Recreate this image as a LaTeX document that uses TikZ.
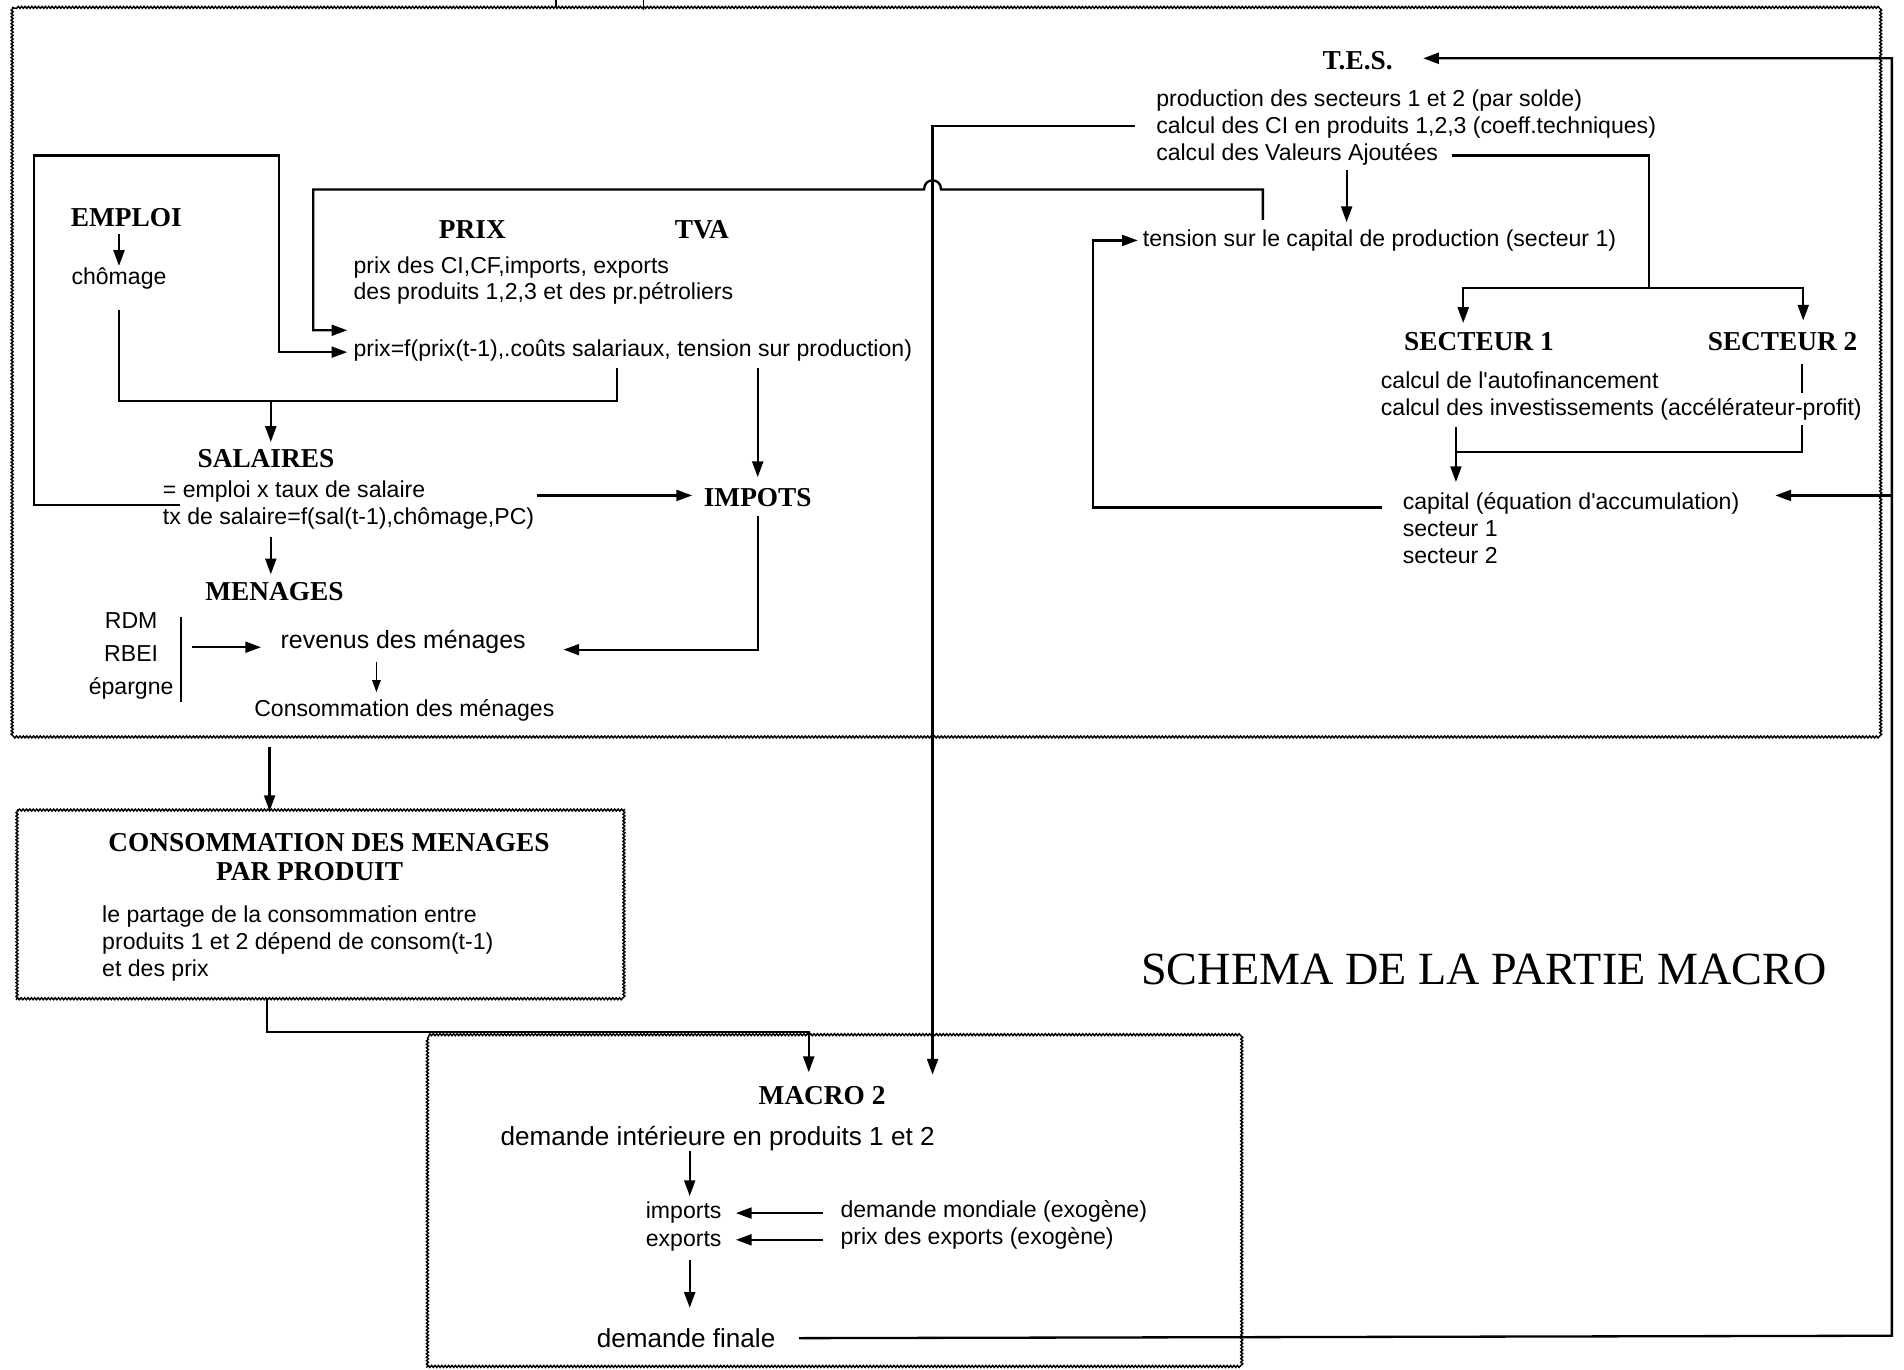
\documentclass[tikz,border=0pt]{standalone}
\usepackage{fontspec}
\setmainfont{Liberation Serif}
\newfontfamily\lsans{Liberation Sans}
\usetikzlibrary{arrows.meta,decorations.pathmorphing}
\begin{document}
\begin{tikzpicture}[x=1pt,y=-1pt,
  txt/.style={font=\lsans\fontsize{19}{22}\selectfont, inner sep=0pt, align=left},
  txtb/.style={font=\lsans\fontsize{21.5}{24}\selectfont, inner sep=0pt, align=left},
  hd/.style={font=\rmfamily\bfseries\fontsize{22.5}{25}\selectfont, inner sep=0pt, align=center},
  ln/.style={line width=1.9pt},
  ar/.style={line width=1.9pt,-{Triangle[length=13pt,width=9pt]}},
  wavy/.style={line width=1.2pt, decorate, decoration={snake,amplitude=0.8pt,segment length=2.8pt}}
]
\useasboundingbox (0,0) rectangle (1568,1128);
\fill[white] (0,0) rectangle (1568,1128);

% main frame
\draw[wavy] (10,6) rectangle (1546,606);
\draw[line width=1.3pt] (458,0) -- (458,6);
\draw[line width=1.3pt] (530,0) -- (530,8);

% ---------- left part
\node[hd] (emploi) at (104,179) {EMPLOI};
\node[txt] (chomage) at (98,229) {chômage};
\draw[ar] (98,193) -- (98,219);

\node[hd] (prix) at (389,189) {PRIX};
\node[hd] (tva) at (578,189) {TVA};
\node[txt,anchor=west] (prixdes) at (291,231) {prix des CI,CF,imports, exports\\des produits 1,2,3 et des pr.pétroliers};
\node[txt,anchor=west] (prixf) at (291,289) {prix=f(prix(t-1),.coûts salariaux, tension sur production)};

\draw[ln] (98,255) -- (98,330) -- (508,330) -- (508,303);
\coordinate (j1) at (223,330);
\node[hd] (salaires) at (219,378) {SALAIRES};
\draw[ar] (j1) -- (223,364);
\node[txt,anchor=west] (sal) at (134,416) {= emploi x taux de salaire\\tx de salaire=f(sal(t-1),chômage,PC)};

\node[hd] (impots) at (624,410) {IMPOTS};
\draw[ar] (624,303) -- (624,393);
\draw[ar] (442,408) -- (570,408);

\draw[ar] (148,416) -- (28,416) -- (28,128) -- (230,128) -- (230,290) -- (286,290);

\node[hd] (menages) at (226,487) {MENAGES};
\draw[ar] (223,442) -- (223,473);
\node[font=\lsans\fontsize{19}{27}\selectfont, inner sep=0pt, align=center] (rdm) at (108,540) {RDM\\RBEI\\épargne};
\draw[ln] (149,508) -- (149,578);
\draw[ar] (158,533) -- (215,533);
\node[font=\lsans\fontsize{20.5}{24}\selectfont, inner sep=0pt] (revenus) at (332,529) {revenus des ménages};
\draw[ar] (624,425) -- (624,535) -- (464,535);
\draw[line width=1.5pt,-{Triangle[length=10pt,width=7pt]}] (310,545) -- (310,570);
\node[txt] (conso) at (333,585) {Consommation des ménages};

% ---------- right part (T.E.S.)
\node[hd] (tes) at (1118,50) {T.E.S.};
\node[txt,anchor=west] (prod) at (952,105) {production des secteurs 1 et 2 (par solde)\\calcul des CI en produits 1,2,3 (coeff.techniques)\\calcul des Valeurs Ajoutées};
\node[txt,anchor=west] (tension) at (941,198) {tension sur le capital de production (secteur 1)};
\draw[ar] (1109,140) -- (1109,183);

% tension -> prix, with jump over the vertical line
\draw[ar] (1040,181) -- (1040,156) -- (775,156) .. controls (775,146) and (761,146) .. (761,156) -- (258,156) -- (258,272) -- (286,272);
% calcul des CI -> MACRO 2
\draw[ar] (935,104) -- (768,104) -- (768,885);

\draw[ln] (1196,128) -- (1358,128) -- (1358,237);
\draw[ar] (1358,237) -- (1205,237) -- (1205,266);
\draw[ar] (1358,237) -- (1485,237) -- (1485,264);
\node[hd] (s1) at (1218,281) {SECTEUR 1};
\node[hd] (s2) at (1468,281) {SECTEUR 2};
\node[txt,anchor=west] (calc) at (1137,326) {calcul de l'autofinancement\\calcul des investissements (accélérateur-profit)};
\draw[ln] (1484,300) -- (1484,324);
\draw[ln] (1484,350) -- (1484,372) -- (1199,372);
\draw[ar] (1199,352) -- (1199,397);
\node[txt,anchor=west] (capital) at (1155,435) {capital (équation d'accumulation)\\secteur 1\\secteur 2};
\draw[ar] (1138,418) -- (900,418) -- (900,198) -- (937,198);

% ---------- consommation box
\draw[ar] (222,615) -- (222,668);
\draw[wavy] (14,667) rectangle (515,822);
\node[hd] (cmp1) at (271,694) {CONSOMMATION DES MENAGES};
\node[hd] (cmp2) at (255,718) {PAR PRODUIT};
\node[txt,anchor=west] (partage) at (84,777) {le partage de la consommation entre\\produits 1 et 2 dépend de consom(t-1)\\et des prix};
\draw[ar] (220,822) -- (220,850) -- (666,850) -- (666,883);

% ---------- MACRO 2 box
\draw[wavy] (352,855) rectangle (1022,1126);
\node[hd] (macro) at (677,902) {MACRO 2};
\node[txtb] (dint) at (591,938) {demande intérieure en produits 1 et 2};
\draw[ar] (568,948) -- (568,985);
\node[txt,align=center,font=\lsans\fontsize{19}{23}\selectfont] (impexp) at (563,1010) {imports\\exports};
\node[txt,anchor=west] (dm) at (692,1009) {demande mondiale (exogène)\\prix des exports (exogène)};
\draw[ar] (678,999) -- (606,999);
\draw[ar] (678,1021) -- (606,1021);
\draw[ar] (568,1038) -- (568,1077);
\node[txtb] (dfin) at (565,1102) {demande finale};

% outer feedback loop
\draw[ar] (658,1102) -- (1558,1100) -- (1558,48) -- (1172,48);
\draw[ar] (1558,408) -- (1462,408);

\node[font=\rmfamily\fontsize{38}{40}\selectfont, inner sep=0pt] (title) at (1222,798) {SCHEMA DE LA PARTIE MACRO};
\end{tikzpicture}
\end{document}
